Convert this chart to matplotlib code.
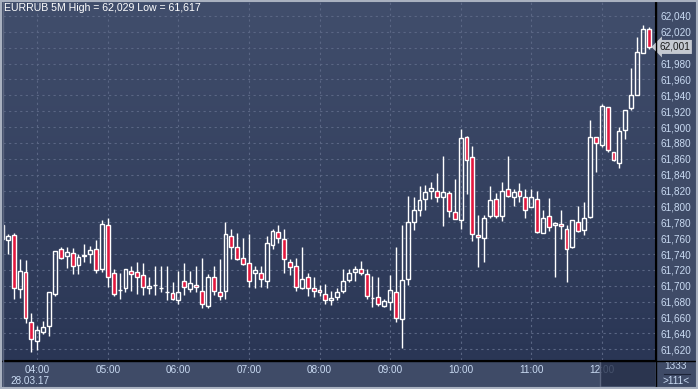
import matplotlib
matplotlib.use("Agg")
import matplotlib.pyplot as plt
import numpy as np
import pandas as pd
from matplotlib.colors import LinearSegmentedColormap
from matplotlib.lines import Line2D
from matplotlib.patches import Rectangle

# EURRUB 5M candles, 03:30 .. 12:40 on 28.03.17
opens = [61776, 61758, 61764, 61696, 61718, 61655,
         61630, 61642, 61649, 61690, 61747, 61737, 61741, 61726, 61737.5, 61740, 61747, 61721,
         61776, 61716, 61695, 61697, 61719, 61718, 61713, 61697, 61701, 61697, 61692, 61691,
         61682, 61706, 61696, 61701, 61694, 61675, 61711, 61692, 61693, 61763, 61749, 61735,
         61729, 61716, 61716, 61706, 61752, 61768, 61759, 61730, 61725, 61697, 61711, 61697,
         61695, 61690, 61682, 61686, 61693, 61707, 61717, 61721, 61715, 61684.5, 61686, 61674,
         61679, 61692, 61658, 61708, 61781, 61795, 61809, 61820, 61819, 61812, 61817, 61793,
         61783, 61887, 61862, 61764, 61760, 61788, 61809, 61788, 61822, 61812, 61819, 61812,
         61799, 61809, 61767, 61788, 61776, 61777.5, 61772, 61749, 61781, 61770, 61787, 61887,
         61877, 61925, 61869, 61855, 61896, 61924, 61941, 61993, 62024]
highs = [61777, 61765, 61766, 61734, 61733, 61666,
         61649, 61656, 61692, 61744, 61749, 61749, 61748, 61740, 61753, 61750, 61758, 61783,
         61786, 61721, 61716, 61721, 61725, 61730, 61729, 61711, 61725, 61725, 61725, 61705,
         61719, 61729, 61719, 61725, 61735, 61715, 61725, 61734, 61781, 61771, 61767, 61760,
         61765, 61725, 61725, 61763, 61771, 61776, 61771, 61734, 61735, 61749, 61716, 61711,
         61701, 61702, 61694, 61697, 61721, 61721, 61725, 61731, 61721, 61712, 61711, 61683,
         61713, 61749, 61777, 61813, 61812, 61826, 61827, 61831, 61842, 61864, 61819, 61834,
         61897, 61889, 61876, 61789, 61789, 61826, 61817, 61831, 61864, 61822, 61829, 61822,
         61822, 61820, 61795, 61811, 61780, 61796, 61776, 61783, 61801, 61806, 61909, 61887,
         61929, 61925, 61869, 61900, 61922, 61975, 62013, 62029, 62026]
lows = [61758, 61740, 61684, 61685, 61653, 61617,
        61619, 61639, 61637, 61687, 61734, 61723, 61715, 61715, 61730, 61729, 61716, 61718,
        61699, 61687, 61684, 61692, 61694, 61690, 61689, 61690, 61689, 61692, 61682, 61682,
        61677, 61688, 61692, 61692, 61672, 61672, 61688, 61682, 61684, 61734, 61733, 61726,
        61698, 61697, 61699, 61697, 61746, 61754, 61716, 61713, 61694, 61696, 61687, 61686,
        61687, 61677, 61676, 61682, 61691, 61705, 61706, 61713, 61683, 61673, 61674, 61673,
        61670, 61655, 61622, 61701, 61770, 61788, 61795, 61810, 61806, 61775, 61787, 61784,
        61772, 61816, 61757, 61724, 61730, 61786, 61786, 61782, 61812, 61801, 61806, 61786,
        61799, 61767, 61767, 61769, 61711, 61759, 61705, 61748, 61768, 61764, 61786, 61843,
        61875, 61868, 61857, 61849, 61885, 61921, 61940, 61993, 61999]
closes = [61759, 61763, 61697, 61719, 61659, 61633,
          61644, 61648, 61692, 61744, 61735, 61742, 61725, 61736, 61738.5, 61745, 61720, 61778,
          61711, 61690, 61695, 61721, 61715, 61711, 61698, 61700, 61701, 61697, 61692, 61684,
          61692, 61698, 61703, 61698, 61677, 61711, 61693, 61687, 61765, 61749, 61734, 61727,
          61706, 61720, 61709, 61754, 61769, 61760, 61734, 61724, 61698, 61708, 61697, 61693,
          61692, 61682, 61684.5, 61692, 61706, 61716, 61721, 61716, 61687, 61684.5, 61677, 61681,
          61695, 61659, 61707, 61780, 61796, 61808, 61818, 61823, 61812, 61818, 61794, 61784,
          61886, 61859, 61765, 61761, 61786, 61808, 61788, 61820, 61813, 61818, 61813, 61796,
          61812, 61767.5, 61785, 61774, 61779, 61775, 61747, 61782.6, 61769, 61786, 61887, 61880,
          61927, 61871, 61858, 61895, 61922, 61940, 61995, 62023, 62001]

times = pd.date_range("2017-03-28 03:30", periods=len(opens), freq="5min")
title_text = "EURRUB 5M High = 62,029 Low = 61,617"
date_text = "28.03.17"
last_price = 62001

plt.rcParams['font.family'] = ['Liberation Sans', 'DejaVu Sans']

W, H = 698, 389
def fx(px):
    return px / W
def fy(py):
    return 1 - py / H

fig = plt.figure(figsize=(W / 100, H / 100), dpi=100, facecolor='#3f4b67')
ax = fig.add_axes([fx(3), fy(360), fx(655) - fx(3), fy(1) - fy(360)])

o = np.array(opens)
h = np.array(highs)
l = np.array(lows)
c = np.array(closes)
x = np.arange(len(o))
top = np.maximum(o, c)
bot = np.minimum(o, c)
down = c < o

xmin, xmax = 0.167, 111.05
ymin, ymax = 61606.5, 62058.9
ax.set_xlim(xmin, xmax)
ax.set_ylim(ymin, ymax)

# gradient background
cmap = LinearSegmentedColormap.from_list("bg", ["#414e6c", "#2a3655"])
ax.imshow(np.linspace(0, 1, 256).reshape(-1, 1), cmap=cmap, aspect='auto',
          extent=[xmin, xmax, ymin, ymax], origin='upper', zorder=0)

ax.vlines(x, top, h, color='white', lw=1, zorder=3)
ax.vlines(x, l, bot, color='white', lw=1, zorder=3)
face = ['#e3173e' if d else 'none' for d in down]
ax.bar(x, top - bot, 0.66, bottom=bot, color=face, edgecolor='white', linewidth=1, zorder=4)

# ticks
hour_pos = x[times.minute == 0]
ax.set_xticks(hour_pos)
ax.set_xticklabels(times[times.minute == 0].strftime("%H:%M"))
yt = np.arange(61620, 62041, 20)
ax.set_yticks(yt)
# the 62,000 label sits under the last-price marker
ax.set_yticklabels(["" if abs(v - last_price) < 10 else "{:,}".format(v) for v in yt])
ax.yaxis.tick_right()
ax.tick_params(axis='both', length=0, labelsize=7.2, colors='#c9daf2')
ax.tick_params(axis='x', pad=3.5)
ax.tick_params(axis='y', pad=4)
ax.grid(True, color='#5a6684', linestyle=(0, (2, 3)), linewidth=0.8, zorder=1)
ax.set_axisbelow(True)
for s in ['top', 'left']:
    ax.spines[s].set_visible(False)
ax.spines['right'].set_color('black')
ax.spines['bottom'].set_color('black')

ax.text(0.002, 0.995, title_text, transform=ax.transAxes, ha='left', va='top',
        fontsize=7.6, color='white', zorder=6)

# last price marker
ax.text(1.0 + 4 / 652, last_price, "{:,}".format(last_price), transform=ax.get_yaxis_transform(),
        ha='left', va='center', fontsize=7.2, color='#1a1a1a', clip_on=False, zorder=10,
        bbox=dict(boxstyle='larrow,pad=0.2', fc='#c5c9d1', ec='none'))

fig.text(fx(30), fy(381), date_text, ha='center', va='center', fontsize=7.2, color='#c9daf2')
fig.text(fx(676), fy(366), "1333", ha='center', va='center', fontsize=7.2, color='#c9daf2')
fig.text(fx(676), fy(381), ">111<", ha='center', va='center', fontsize=7.2, color='#c9daf2')
fig.add_artist(Line2D([fx(664), fx(690)], [fy(373.5), fy(373.5)], color='#1c2438', lw=0.8))

# shaded scroll area in time panel
fig.add_artist(Rectangle((fx(600), fy(386)), fx(655) - fx(600), fy(361) - fy(386),
                         transform=fig.transFigure, fc='#26304a', alpha=0.8, ec='none', zorder=5))
fig.add_artist(Line2D([fx(599.5), fx(599.5)], [fy(361), fy(386)], color='#5c6680', lw=1, zorder=6))

# frame lines
fig.add_artist(Line2D([0, 1], [fy(360.5), fy(360.5)], color='black', lw=1, zorder=6))
fig.add_artist(Line2D([fx(655.5), fx(655.5)], [fy(0), fy(387)], color='black', lw=1, zorder=6))
fig.add_artist(Rectangle((0.0015, 0.002), 0.997, 0.996, transform=fig.transFigure,
                         fc='none', ec='#a9b1c0', lw=1.5, zorder=7))
fig.add_artist(Line2D([fx(2.5), fx(2.5)], [fy(1), fy(386)], color='#5c6680', lw=1, zorder=6))

fig.savefig("out.png", dpi=100, facecolor=fig.get_facecolor())
